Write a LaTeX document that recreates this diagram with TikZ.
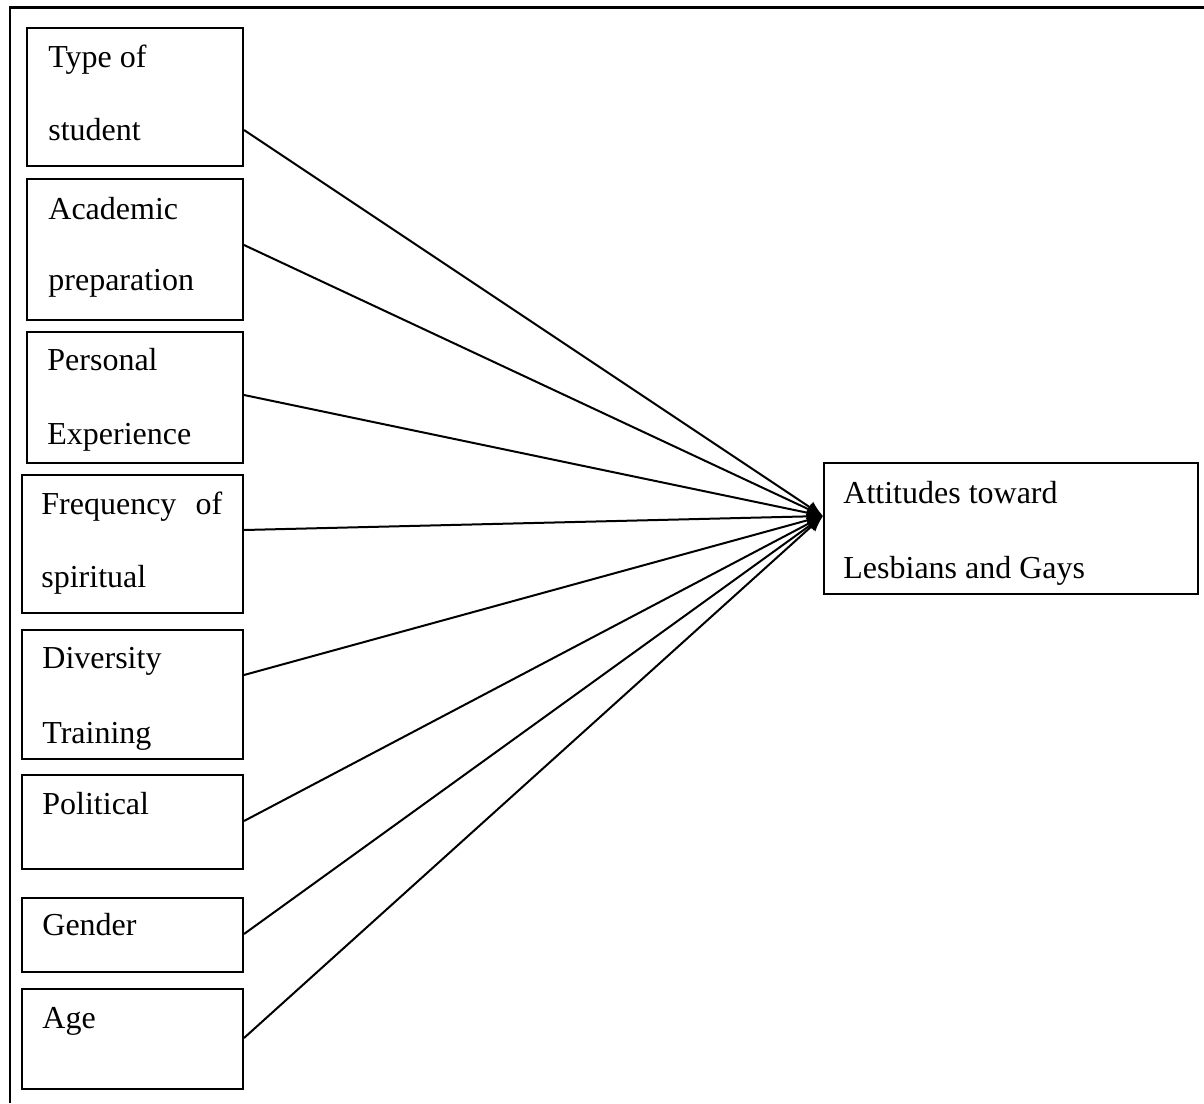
\documentclass[tikz,border=0pt]{standalone}
\usepackage{fontspec}
\setmainfont{Liberation Serif}
\usetikzlibrary{arrows.meta}
\begin{document}
\begin{tikzpicture}[x=0.5pt,y=-0.5pt,
  box/.style 2 args={draw, line width=1pt, inner sep=0pt, minimum width=#1*0.5pt, minimum height=#2*0.5pt, anchor=north west},
  lbl/.style={anchor=base west, inner sep=0pt, font=\fontsize{16}{19}\selectfont},
  conn/.style={line width=1pt, -{Latex[length=8pt,width=6.5pt]}},
  frame/.style={line width=1.2pt}]
\useasboundingbox (0,0) rectangle (1204,1103);
\draw[frame] (10,1103) -- (10,7.5) -- (1204,7.5);
% boxes
\node[box={216}{138}] (b1) at (26,27) {};
\node[box={216}{141}] (b2) at (26,178) {};
\node[box={216}{131}] (b3) at (26,331) {};
\node[box={221}{138}] (b4) at (21,474) {};
\node[box={221}{129}] (b5) at (21,629) {};
\node[box={221}{94}] (b6) at (21,774) {};
\node[box={221}{74}] (b7) at (21,897) {};
\node[box={221}{100}] (b8) at (21,988) {};
\node[box={374}{131}] (tg) at (823,462) {};
% texts
\node[lbl] (l1a) at (48,67) {Type of};
\node[lbl] (l1b) at (48,140) {student};
\node[lbl] (l2a) at (48,219) {Academic};
\node[lbl] (l2b) at (48,290) {preparation};
\node[lbl] (l3a) at (47,370) {Personal};
\node[lbl] (l3b) at (47,444) {Experience};
\node[lbl] (l4a) at (41,514) {\makebox[90.5pt][l]{Frequency\hfill of}};
\node[lbl] (l4b) at (41,587) {spiritual};
\node[lbl] (l5a) at (42,668) {Diversity};
\node[lbl] (l5b) at (42,743) {Training};
\node[lbl] (l6) at (42,814) {Political};
\node[lbl] (l7) at (42,935) {Gender};
\node[lbl] (l8) at (42,1028) {Age};
\node[lbl] (lta) at (843,503) {Attitudes toward};
\node[lbl] (ltb) at (843,578) {Lesbians and Gays};
% connector endpoints
\coordinate (tip) at (tg.west |- 0,516);
\coordinate (s1) at (b1.east |- 0,130);
\coordinate (s2) at (b2.east |- 0,245);
\coordinate (s3) at (b3.east |- 0,395);
\coordinate (s4) at (b4.east |- 0,530);
\coordinate (s5) at (b5.east |- 0,675);
\coordinate (s6) at (b6.east |- 0,821);
\coordinate (s7) at (b7.east |- 0,934);
\coordinate (s8) at (b8.east |- 0,1038);
\foreach \i in {1,...,8} {\draw[conn] (s\i) -- (tip);}
\end{tikzpicture}
\end{document}
